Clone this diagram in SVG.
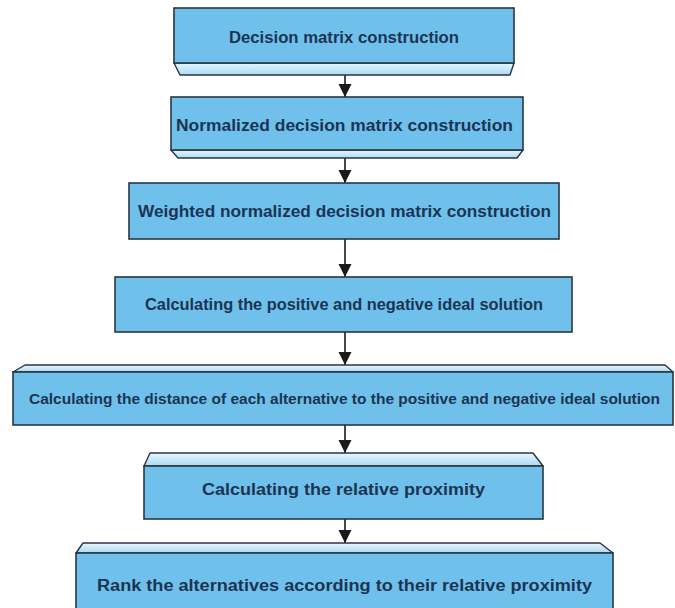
<svg xmlns="http://www.w3.org/2000/svg" width="675" height="608" viewBox="0 0 675 608">
<defs>
<style>
.box{fill:#6fc1ec;stroke:#2b3542;stroke-width:1.6}
.bev{fill:url(#bg);stroke:#2b3542;stroke-width:1.4;stroke-linejoin:round}
.t{font-family:"Liberation Sans",Arial,sans-serif;font-weight:bold;font-size:16px;fill:#1c3452}
.s{font-size:15px}
.c{stroke:#1a1a1a;stroke-width:1.6;fill:none}
</style>
<linearGradient id="bg" x1="0" y1="0" x2="0" y2="1">
<stop offset="0" stop-color="#eaf6fd"/>
<stop offset="1" stop-color="#a9daf4"/>
</linearGradient>
<marker id="ah" markerUnits="userSpaceOnUse" markerWidth="14" markerHeight="14" viewBox="0 0 14 14" refX="13" refY="7" orient="auto">
<path d="M0,0.5 L13,7 L0,13.5 Z" fill="#1a1a1a"/>
</marker>
</defs>
<rect width="675" height="608" fill="#ffffff"/>
<g id="connectors">
<line class="c" x1="345" y1="75" x2="345" y2="97" marker-end="url(#ah)"/>
<line class="c" x1="345" y1="158" x2="345" y2="183" marker-end="url(#ah)"/>
<line class="c" x1="345" y1="239" x2="345" y2="277" marker-end="url(#ah)"/>
<line class="c" x1="345" y1="332" x2="345" y2="365" marker-end="url(#ah)"/>
<line class="c" x1="345" y1="425" x2="345" y2="453" marker-end="url(#ah)"/>
<line class="c" x1="345" y1="519" x2="345" y2="543" marker-end="url(#ah)"/>
</g>
<g id="node1">
<polygon class="bev" points="174,63 514,63 510,75 180,75"/>
<rect class="box" x="174" y="8" width="340" height="55"/>
<text class="t" x="229" y="43" textLength="230" lengthAdjust="spacingAndGlyphs">Decision matrix construction</text>
</g>
<g id="node2">
<polygon class="bev" points="171,150 523,150 517,158 178,158"/>
<rect class="box" x="171" y="97" width="352" height="53"/>
<text class="t" x="176" y="131" textLength="337" lengthAdjust="spacingAndGlyphs">Normalized decision matrix construction</text>
</g>
<g id="node3">
<rect class="box" x="129" y="183" width="430" height="56"/>
<text class="t" x="138" y="217" textLength="413" lengthAdjust="spacingAndGlyphs">Weighted normalized decision matrix construction</text>
</g>
<g id="node4">
<rect class="box" x="115" y="277" width="457" height="55"/>
<text class="t" x="145" y="310" textLength="398" lengthAdjust="spacingAndGlyphs">Calculating the positive and negative ideal solution</text>
</g>
<g id="node5">
<polygon class="bev" points="13,372 25,365 665,365 673,372"/>
<rect class="box" x="13" y="372" width="660" height="53"/>
<text class="t s" x="29" y="404" textLength="631" lengthAdjust="spacingAndGlyphs">Calculating the distance of each alternative to the positive and negative ideal solution</text>
</g>
<g id="node6">
<polygon class="bev" points="144,466 150,453 533,453 543,466"/>
<rect class="box" x="144" y="466" width="399" height="53"/>
<text class="t" x="202" y="495" textLength="283" lengthAdjust="spacingAndGlyphs">Calculating the relative proximity</text>
</g>
<g id="node7">
<polygon class="bev" points="76,553 83,543 600,543 613,553"/>
<rect class="box" x="76" y="553" width="537" height="62"/>
<text class="t" x="97" y="591" textLength="495" lengthAdjust="spacingAndGlyphs">Rank the alternatives according to their relative proximity</text>
</g>
</svg>
